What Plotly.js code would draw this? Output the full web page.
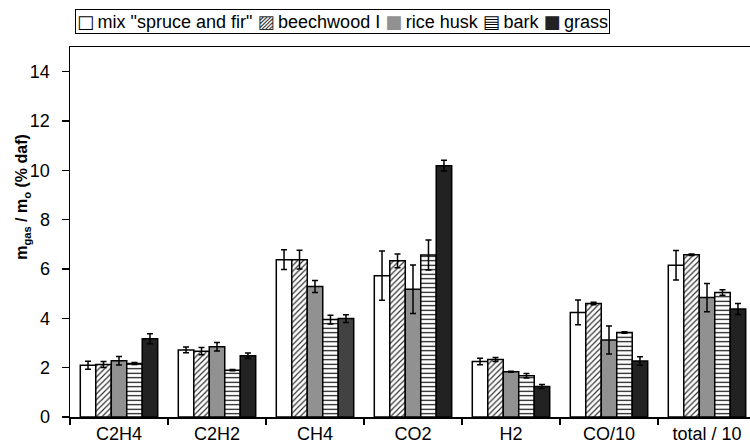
<!DOCTYPE html>
<html>
<head>
<meta charset="utf-8">
<script src="https://cdn.plot.ly/plotly-3.0.1.min.js"></script>
<style>html,body{margin:0;padding:0;overflow:hidden;background:#fff}#chart{width:760px;height:443px}</style>
</head>
<body>
<div id="chart"></div>
<script>
const categories = ["C2H4", "C2H2", "CH4", "CO2", "H2", "CO/10", "total / 10"];
const seriesNames = ['mix "spruce and fir"', "beechwood I", "rice husk", "bark", "grass"];
const legendIcons = ["□", "▨", "■", "▤", "■"];
const legendIconColors = ["#000", "#333", "#919191", "#000", "#222"];
const spruceFir = [2.10, 2.72, 6.38, 5.73, 2.25, 4.24, 6.15];
const spruceFirErr = [0.16, 0.12, 0.40, 1.00, 0.13, 0.50, 0.60];
const beechwood = [2.13, 2.67, 6.38, 6.33, 2.33, 4.60, 6.58];
const beechwoodErr = [0.12, 0.15, 0.38, 0.28, 0.08, 0.05, 0.03];
const riceHusk = [2.28, 2.85, 5.29, 5.18, 1.83, 3.12, 4.84];
const riceHuskErr = [0.17, 0.17, 0.24, 0.98, 0.02, 0.57, 0.57];
const bark = [2.17, 1.90, 3.95, 6.57, 1.67, 3.43, 5.05];
const barkErr = [0.04, 0.03, 0.18, 0.61, 0.09, 0.03, 0.11];
const grass = [3.17, 2.48, 3.99, 10.19, 1.24, 2.27, 4.38];
const grassErr = [0.20, 0.11, 0.16, 0.22, 0.08, 0.17, 0.22];
const yTicks = [0, 2, 4, 6, 8, 10, 12, 14];

const line = {color: "#000", width: 1.5};
function eb(arr) { return {type: "data", array: arr, visible: true, color: "#000", thickness: 1.5, width: 3}; }

const traces = [
  {name: seriesNames[0], x: categories, y: spruceFir, error_y: eb(spruceFirErr),
   marker: {color: "#fff", line: line}},
  {name: seriesNames[1], x: categories, y: beechwood, error_y: eb(beechwoodErr),
   marker: {color: "#fff", line: line, pattern: {shape: "/", size: 4, solidity: 0.3, fgcolor: "#333", bgcolor: "#fff", fillmode: "replace"}}},
  {name: seriesNames[2], x: categories, y: riceHusk, error_y: eb(riceHuskErr),
   marker: {color: "#919191", line: line}},
  {name: seriesNames[3], x: categories, y: bark, error_y: eb(barkErr),
   marker: {color: "#fff", line: line, pattern: {shape: "-", size: 4.5, solidity: 0.25, fgcolor: "#000", bgcolor: "#fff", fillmode: "replace"}}},
  {name: seriesNames[4], x: categories, y: grass, error_y: eb(grassErr),
   marker: {color: categories.map(c => c === "CH4" ? "#424242" : "#222222"), line: line}}
].map(t => Object.assign({type: "bar", showlegend: false}, t));

const legendText = seriesNames.map((n, i) =>
  '<span style="color:' + legendIconColors[i] + ';font-family:DejaVu Sans">' + legendIcons[i] + '</span>\u2009' + n
).join(" ");

const layout = {
  width: 760, height: 443,
  margin: {l: 70, r: 4, t: 47, b: 26},
  paper_bgcolor: "#fff", plot_bgcolor: "#fff",
  font: {family: "Liberation Sans, Arial, sans-serif", size: 18, color: "#000"},
  barmode: "group", bargap: 0.21, bargroupgap: 0,
  showlegend: false,
  xaxis: {type: "category", tickson: "boundaries", ticks: "outside", ticklen: 6, tickwidth: 1.5,
    tickcolor: "#000", showline: true, linecolor: "#000", linewidth: 1.5, mirror: true,
    showgrid: false, tickfont: {size: 18}, ticklabelstandoff: 0, automargin: false},
  yaxis: {range: [0, 15], tickvals: yTicks, ticks: "outside", ticklen: 7, tickwidth: 1.5,
    tickcolor: "#000", showline: true, linecolor: "#000", linewidth: 1.5, mirror: true,
    showgrid: false, zeroline: false, tickfont: {size: 18}, ticklabelstandoff: 8, automargin: false},
  annotations: [
    {text: "<b>m<sub>gas</sub> / m<sub>o</sub> (% daf)</b>", textangle: -90,
     xref: "paper", yref: "paper", x: -0.0685, y: 0.595, xanchor: "center", yanchor: "middle",
     showarrow: false, font: {size: 16}},
    {text: legendText, xref: "paper", yref: "paper", x: 0.0073, y: 1.1027,
     xanchor: "left", yanchor: "top", showarrow: false, align: "left",
     bordercolor: "#000", borderwidth: 1, borderpad: 1, bgcolor: "#fff", font: {size: 18}}
  ]
};

Plotly.newPlot("chart", traces, layout, {displayModeBar: false, staticPlot: true});
</script>
</body>
</html>
